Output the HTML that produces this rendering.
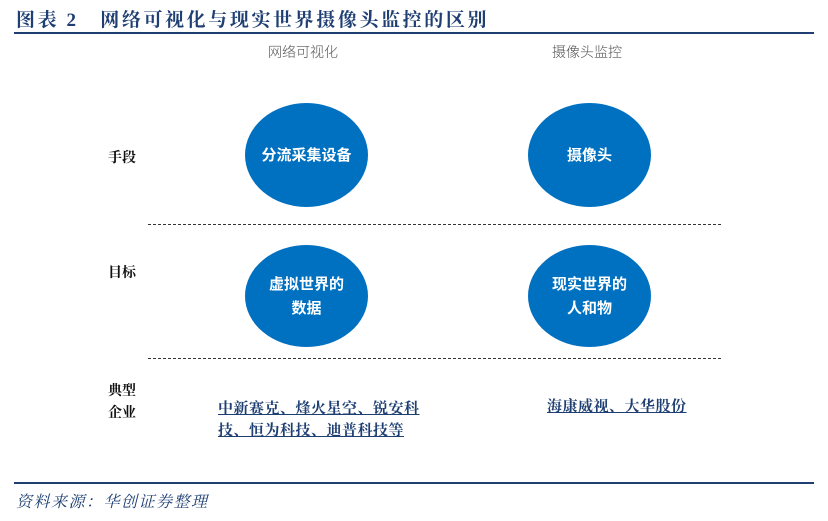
<!DOCTYPE html><html><head><meta charset="utf-8"><style>
body{margin:0;width:828px;height:521px;background:#fff;position:relative;overflow:hidden;font-family:"Liberation Serif","Noto Serif CJK SC",serif}
.a{position:absolute;white-space:nowrap}
.c{position:absolute;background:#0070c0;border-radius:50%;color:#fff;font-weight:bold;font-size:15px;display:flex;align-items:center;justify-content:center;text-align:center;line-height:24px;font-family:"Noto Sans CJK SC",sans-serif}
.d{position:absolute;left:148px;width:573px;border-top:1px dashed #333}
.l{font-size:14px;font-weight:bold;color:#111}
.u{color:#1f3f73;font-weight:bold;font-size:15px;letter-spacing:0.5px;text-decoration:underline;line-height:22px}
</style></head><body>
<div class="a" style="left:16px;top:5px;font-size:19px;font-weight:bold;color:#1f3f73;letter-spacing:2.6px">图表 2　网络可视化与现实世界摄像头监控的区别</div>
<div class="a" style="left:14px;top:32px;width:800px;height:2px;background:#1f3f73"></div>
<div class="a" style="left:268px;top:42px;font-size:14px;color:#555;font-family:'Noto Sans CJK SC',sans-serif;font-weight:300">网络可视化</div>
<div class="a" style="left:552px;top:42px;font-size:14px;color:#555;font-family:'Noto Sans CJK SC',sans-serif;font-weight:300">摄像头监控</div>
<div class="c" style="left:245px;top:103px;width:123px;height:104px">分流采集设备</div>
<div class="c" style="left:528px;top:103px;width:123px;height:104px">摄像头</div>
<div class="c" style="left:245px;top:245px;width:123px;height:102px">虚拟世界的<br>数据</div>
<div class="c" style="left:528px;top:245px;width:123px;height:102px">现实世界的<br>人和物</div>
<div class="d" style="top:224px"></div>
<div class="d" style="top:358px"></div>
<div class="a l" style="left:108px;top:147px">手段</div>
<div class="a l" style="left:108px;top:262px">目标</div>
<div class="a l" style="left:108px;top:381px;line-height:22px">典型<br>企业</div>
<div class="a u" style="left:218px;top:398px">中新赛克、烽火星空、锐安科<br>技、恒为科技、迪普科技等</div>
<div class="a u" style="left:547px;top:396px">海康威视、大华股份</div>
<div class="a" style="left:14px;top:482px;width:800px;height:2px;background:#1f3f73"></div>
<div class="a" style="left:16px;top:489px;font-size:16px;letter-spacing:1.5px;font-style:italic;color:#1f3f73">资料来源：华创证券整理</div>
</body></html>
